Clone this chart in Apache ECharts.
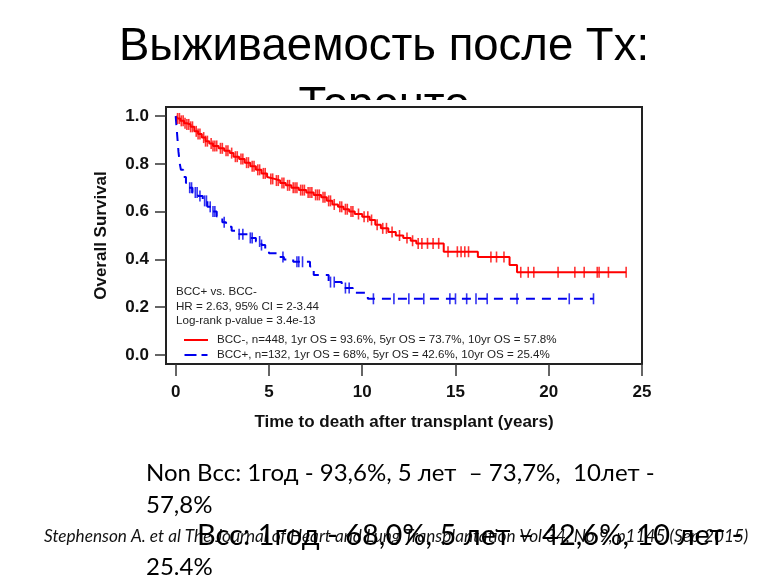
<!DOCTYPE html>
<html>
<head>
<meta charset="utf-8">
<script src="https://cdn.jsdelivr.net/npm/echarts@6/dist/echarts.min.js"></script>
<style>html,body{margin:0;padding:0;background:#fff}#c{width:768px;height:576px}</style>
</head>
<body>
<div id="c"></div>
<script>
// ---- Data ----
var redTimes = [0,0.1,0.25,0.45,0.6,0.8,1.0,1.2,1.4,1.6,1.8,2.0,2.3,2.6,2.9,3.1,3.4,3.7,4.0,4.3,4.6,4.9,5.0,5.3,5.6,5.9,6.2,6.6,7.0,7.4,7.8,8.1,8.4,8.7,9.0,9.3,9.6,10.0,10.4,10.7,11.0,11.4,11.8,12.2,12.6,12.9,14.37,16.2,17.9,18.3,24.15];
var redSurv  = [1.0,0.99,0.98,0.97,0.965,0.955,0.936,0.925,0.91,0.895,0.885,0.875,0.865,0.855,0.845,0.83,0.82,0.805,0.79,0.775,0.76,0.745,0.737,0.73,0.72,0.71,0.70,0.69,0.68,0.67,0.66,0.645,0.63,0.62,0.61,0.60,0.59,0.578,0.565,0.545,0.53,0.515,0.50,0.49,0.478,0.467,0.432,0.41,0.377,0.346,0.346];
var redCensor = [0.1,0.2,0.3,0.4,0.5,0.6,0.7,0.8,0.9,1.1,1.2,1.3,1.5,1.6,1.7,1.9,2.0,2.1,2.2,2.4,2.5,2.7,2.8,3.0,3.2,3.3,3.5,3.6,3.8,3.9,4.1,4.2,4.4,4.5,4.7,4.8,5.1,5.2,5.4,5.5,5.7,5.8,6.0,6.1,6.3,6.4,6.5,6.7,6.8,6.9,7.1,7.2,7.3,7.5,7.6,7.7,7.9,8.0,8.2,8.3,8.5,8.8,8.9,9.1,9.2,9.4,9.5,9.8,10.1,10.3,10.5,10.8,11.1,11.3,11.6,12.0,12.4,12.7,13.0,13.2,13.5,13.8,14.1,14.6,15.1,15.3,15.5,15.7,16.9,17.2,17.6,18.5,18.9,19.2,20.5,21.4,21.9,22.6,22.7,23.2,24.15];

var blueTimes = [0,0.05,0.1,0.15,0.22,0.28,0.4,0.55,0.7,0.9,1.2,1.45,1.7,1.95,2.2,2.5,2.7,3.0,3.4,3.9,4.3,4.6,4.8,5.0,5.5,5.8,6.3,7.2,7.4,8.2,8.9,9.5,10.3,22.4];
var blueSurv  = [1.0,0.95,0.9,0.85,0.8,0.775,0.745,0.72,0.70,0.68,0.665,0.645,0.62,0.60,0.58,0.555,0.537,0.52,0.505,0.49,0.475,0.46,0.44,0.426,0.41,0.40,0.39,0.37,0.335,0.305,0.28,0.26,0.235,0.235];
var blueCensor = [0.75,0.85,1.05,1.15,1.3,1.55,1.65,1.85,2.0,2.1,2.6,3.4,3.6,4.0,4.1,4.5,4.6,5.75,6.5,6.6,6.8,8.3,8.5,9.1,9.3,10.6,11.7,12.5,13.3,14.7,15.0,15.6,16.1,16.7,18.3,21.1,22.4];

var xTicks = [0,5,10,15,20,25];
var yTicks = [0,0.2,0.4,0.6,0.8,1.0];

var redName  = 'BCC-, n=448, 1yr OS = 93.6%, 5yr OS = 73.7%, 10yr OS = 57.8%';
var blueName = 'BCC+, n=132, 1yr OS = 68%, 5yr OS = 42.6%, 10yr OS = 25.4%';
var statLines = ['BCC+ vs. BCC-', 'HR = 2.63, 95% CI = 2-3.44', 'Log-rank p-value = 3.4e-13'];

var titleLine1 = 'Выживаемость после Tx:';
var titleLine2 = 'Торонто';
var note1 = 'Non Bcc: 1год - 93,6%, 5 лет  – 73,7%,  10лет -';
var note2 = '57,8%';
var note3 = 'Bcc: 1год - 68,0%, 5 лет – 42,6%, 10 лет -';
var note4 = '25.4%';
var citation = 'Stephenson A. et al The Journal of Heart and Lung Transplantation Vol 34, No 9, p1145 (Sep 2015)';

// ---- helpers ----
function pairs(t, s) { return t.map(function (v, i) { return [v, s[i]]; }); }
function survAt(t, s, x) { var v = s[0]; for (var i = 0; i < t.length; i++) { if (t[i] <= x) v = s[i]; } return v; }
function censorPts(t, s, c) { return c.map(function (x) { return [x, survAt(t, s, x)]; }); }

var RED = '#ff0000', BLUE = '#0000ee';
var chart = echarts.init(document.getElementById('c'), null, { renderer: 'canvas' });
var axisFont = 'Liberation Sans';

chart.setOption({
  animation: false,
  backgroundColor: '#fff',
  grid: { left: 166, top: 107, width: 476, height: 257, show: true, borderColor: '#222', borderWidth: 2, backgroundColor: 'transparent', z: 0 },
  xAxis: {
    type: 'value', min: -0.52, max: 25,
    axisLine: { show: false, onZero: false },
    splitLine: { show: false },
    axisTick: { show: true, inside: false, length: 12, customValues: xTicks, lineStyle: { color: '#333', width: 1.5 } },
    axisLabel: { customValues: xTicks, margin: 20, fontSize: 17, fontWeight: 'bold', color: '#111', fontFamily: axisFont },
    name: 'Time to death after transplant (years)', nameLocation: 'middle', nameGap: 50,
    nameTextStyle: { fontSize: 17, fontWeight: 'bold', color: '#111', fontFamily: axisFont }
  },
  yAxis: {
    type: 'value', min: -0.038, max: 1.038,
    axisLine: { show: false, onZero: false },
    splitLine: { show: false },
    axisTick: { show: true, inside: false, length: 11, customValues: yTicks, lineStyle: { color: '#333', width: 1.5 } },
    axisLabel: { customValues: yTicks, margin: 17, fontSize: 17, fontWeight: 'bold', color: '#111', fontFamily: axisFont,
      formatter: function (v) { return v.toFixed(1); } },
    name: 'Overall Survival', nameLocation: 'middle', nameGap: 56,
    nameTextStyle: { fontSize: 17, fontWeight: 'bold', color: '#111', fontFamily: axisFont }
  },
  legend: {
    orient: 'vertical', left: 184, top: 333, padding: 0, itemWidth: 24, itemHeight: 2, itemGap: 1,
    data: [
      { name: redName, icon: 'path://M0,0h24v2h-24z' },
      { name: blueName, icon: 'path://M0,0h12v2h-12zM17,0h6v2h-6z' }
    ],
    selectedMode: false,
    textStyle: { fontSize: 11.6, color: '#222', fontFamily: axisFont, padding: [0, 0, 0, 4], lineHeight: 14 }
  },
  series: [
    { name: redName, type: 'line', step: 'end', symbol: 'none', data: pairs(redTimes, redSurv),
      lineStyle: { color: RED, width: 2 }, itemStyle: { color: RED }, z: 3 },
    { name: blueName, type: 'line', step: 'end', symbol: 'none', data: pairs(blueTimes, blueSurv),
      lineStyle: { color: BLUE, width: 2, type: [9, 7] }, itemStyle: { color: BLUE }, z: 3 },
    { name: 'redCensor', type: 'scatter', data: censorPts(redTimes, redSurv, redCensor), symbol: 'rect', symbolSize: [1.6, 11],
      itemStyle: { color: RED }, z: 4, silent: true },
    { name: 'blueCensor', type: 'scatter', data: censorPts(blueTimes, blueSurv, blueCensor), symbol: 'rect', symbolSize: [1.6, 11],
      itemStyle: { color: BLUE }, z: 4, silent: true }
  ],
  graphic: [
    { type: 'text', left: 'center', top: 24, z: -10, style: { text: titleLine1, font: '45.5px "Liberation Sans"', fill: '#000' } },
    { type: 'text', left: 'center', top: 83, z: -10, style: { text: titleLine2, font: '45.5px "Liberation Sans"', fill: '#000' } },
    { type: 'rect', shape: { x: 0, y: 100, width: 768, height: 40 }, z: -5, style: { fill: '#fff' } },
    { type: 'text', left: 176, top: 285, style: { text: statLines.join('\n'), font: '11.6px "Liberation Sans"', lineHeight: 14.5, fill: '#222' } },
    { type: 'text', left: 146, top: 461, style: { text: note1, font: '24px Lato', fill: '#000' } },
    { type: 'text', left: 146, top: 493, style: { text: note2, font: '24px Lato', fill: '#000' } },
    { type: 'text', left: 44, top: 528, style: { text: citation, font: 'italic 17.2px Lato', fill: '#111' } },
    { type: 'text', left: 197, top: 521, style: { text: note3, font: '29px Lato', fill: '#000' } },
    { type: 'text', left: 146, top: 555, style: { text: note4, font: '24px Lato', fill: '#000' } }
  ]
});
</script>
</body>
</html>
